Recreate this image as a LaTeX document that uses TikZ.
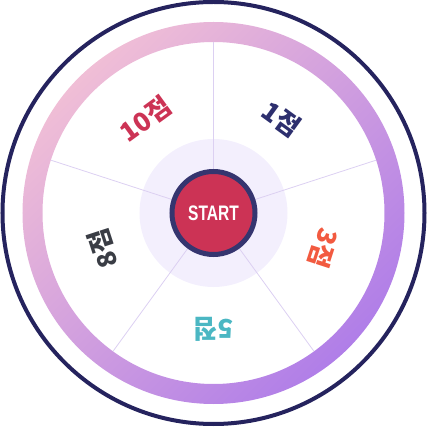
\documentclass[tikz,border=0pt]{standalone}
\usepackage{fontspec}
\usepackage{tikz}
\newfontfamily\kor{Noto Sans CJK KR Black}
\newfontfamily\startfont{Liberation Sans}
\definecolor{navy}{HTML}{25235E}
\definecolor{ringpink}{HTML}{F0BED6}
\definecolor{ringpurple}{HTML}{B07EE8}
\definecolor{divider}{HTML}{DCD0F2}
\definecolor{hub}{HTML}{F3EFFD}
\definecolor{startred}{HTML}{CC3355}
\definecolor{startrim}{HTML}{35356F}
\definecolor{crimson}{HTML}{CC3355}
\definecolor{indigo}{HTML}{2D2F6E}
\definecolor{tomato}{HTML}{F25A40}
\definecolor{teal}{HTML}{4BB7C3}
\definecolor{slate}{HTML}{3A3D45}
\tikzset{
  prize/.style={font=\kor\fontsize{26}{26}\selectfont, inner sep=0pt}
}

\begin{document}
\begin{tikzpicture}[x=1pt,y=1pt]
\useasboundingbox (-213.5,-215) rectangle (213.5,213);
\draw[navy,line width=4] (0,0) circle (211);
\shade[even odd rule,left color=ringpink,right color=ringpurple,shading angle=45]
  (0,0) circle (191) (0,0) circle (171);
\fill[hub] (0,0) circle (74);
\foreach \a in {90,18,-54,-126,162}
  \draw[divider,line width=0.8] (0,0) -- (\a:171);
\node[prize,text=crimson,rotate=36] (p10) at (126:116) {10점};
\node[prize,text=indigo,rotate=-36] (p1) at (54:116) {1점};
\node[prize,text=tomato,rotate=-108] (p3) at (-18:116) {3점};
\node[prize,text=teal,rotate=180] (p5) at (-90:116) {5점};
\node[prize,text=slate,rotate=108] (p8) at (-162:116) {8점};
\node[circle,fill=startred,draw=startrim,line width=5,minimum size=83,
  text=white,font=\startfont\bfseries\fontsize{21}{21}\selectfont] (start) at (0,0)
  {\scalebox{0.74}[1]{START}};
\end{tikzpicture}
\end{document}
